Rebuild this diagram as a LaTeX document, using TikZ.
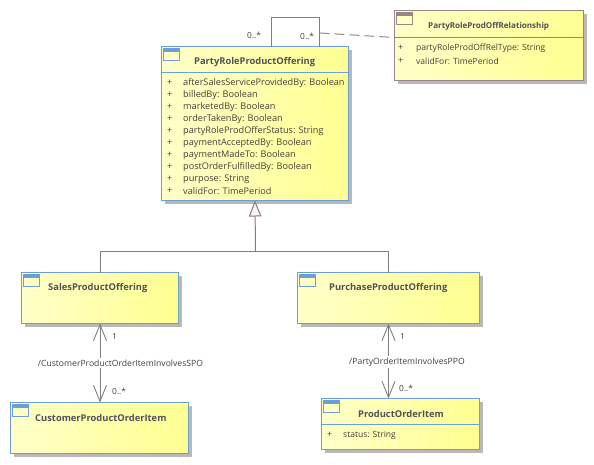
\documentclass[tikz,border=0pt]{standalone}
\usepackage{fontspec}
\setmainfont{Open Sans}
\usetikzlibrary{arrows.meta,calc}
\definecolor{bluebd}{HTML}{6C9FD8}
\definecolor{brownbd}{HTML}{9A8585}
\definecolor{linegray}{HTML}{7F7F7F}
\definecolor{shadowgray}{HTML}{B9B9B9}
\definecolor{txt}{HTML}{453F3F}
\definecolor{ttl}{HTML}{50505A}
\definecolor{yellowa}{HTML}{FFFFC8}
\definecolor{yellowb}{HTML}{FFFF90}
\tikzset{
  x=1pt,y=-1pt,
  classbox/.style={draw=#1,line width=1pt,anchor=north west,inner sep=0pt,outer sep=0pt,left color=yellowa,right color=yellowb},
  title/.style={font=\fontsize{9.35}{11}\selectfont\bfseries,text=ttl,anchor=west,inner sep=0pt},
  titlesm/.style={font=\fontsize{8.05}{10}\selectfont\bfseries,text=ttl,anchor=west,inner sep=0pt},
  attr/.style={font=\fontsize{8.55}{10}\selectfont,text=txt,anchor=west,inner sep=0pt},
  attrbig/.style={attr,font=\fontsize{9.15}{11}\selectfont},
  mult/.style={font=\fontsize{8.4}{10}\selectfont,text=txt,inner sep=0pt},
  lbl/.style={font=\fontsize{8.6}{10}\selectfont,text=txt,inner sep=2pt,fill=white},
  conn/.style={draw=linegray,line width=1pt},
  assoc/.style={conn,{Straight Barb[length=16pt,width=13pt,line width=.9pt]}-{Straight Barb[length=16pt,width=13pt,line width=.9pt]}},
  gen/.style={conn,-{Triangle[open,length=16pt,width=12.5pt,fill=red!6!white,line width=1pt]}}
}
% name, x, y, w, h, border colour
\newcommand{\classshape}[6]{%
  \fill[shadowgray] (#2+3,#3+3) rectangle ++(#4,#5);
  \node[classbox=#6,minimum width=#4pt,minimum height=#5pt] (#1) at (#2,#3) {};
  \draw[#6,line width=.9pt] (#2+2,#3+2) rectangle ++(16,12);
  \fill[#6] (#2+2,#3+2) rectangle ++(16,3.5);
}
\begin{document}
\begin{tikzpicture}
\useasboundingbox (0,0) rectangle (594,464);
\fill[white] (0,0) rectangle (594,464);

\coordinate (loopa) at (271.5,17.5);
\coordinate (loopb) at (319.5,17.5);
\coordinate (junction) at (255.5,251);

\classshape{main}{161.5}{46.5}{187}{154}{bluebd}
\classshape{rel}{394.5}{10.5}{189}{70}{brownbd}
\classshape{sales}{21.5}{272.5}{157}{51}{bluebd}
\classshape{purch}{297.5}{272.5}{182}{51}{bluebd}
\classshape{cpoi}{10.5}{402.5}{178}{51}{bluebd}
\classshape{poi}{321.5}{398.5}{158}{51}{bluebd}

% compartment lines
\draw[bluebd,line width=1pt] (161.5,72.5) -- (348.5,72.5);
\draw[brownbd,line width=1pt] (394.5,37.5) -- (583.5,37.5);
\draw[bluebd,line width=1pt] (321.5,424.5) -- (479.5,424.5);

% connectors
\draw[conn] (main.north west -| loopa) -- (loopa) -- (loopb) -- (main.north west -| loopb);
\coordinate (loopmid) at (319.5,33);
\draw[conn,dash pattern=on 10pt off 5pt,draw=brownbd] (loopmid) -- (rel.west |- 0,37.5);
\draw[conn] (sales.north) |- (junction);
\draw[conn] (purch.north) |- (junction);
\draw[gen] (junction) -- (main.south);
\draw[assoc] (sales.south) -- (sales.south |- cpoi.north);
\draw[assoc] (purch.south) -- (purch.south |- poi.north);

\node[lbl] (la) at (120.5,363) {/CustomerProductOrderItemInvolvesSPO};
\node[lbl] (lb) at (407,362) {/PartyOrderItemInvolvesPPO};
\node[mult] (m1) at (114.5,336) {1};
\node[mult,anchor=west] (m2) at (112,391) {0..*};
\node[mult] (m3) at (402.5,336) {1};
\node[mult,anchor=west] (m4) at (399,388) {0..*};
\node[mult,anchor=west] (m5) at (247,35) {0..*};
\node[mult,anchor=west] (m6) at (300,36) {0..*};

% titles
\node[title] (t1) at (194,62) {PartyRoleProductOffering};
\node[titlesm] (t2) at (428,26) {PartyRoleProdOffRelationship};
\node[title] (t3) at (48,288) {SalesProductOffering};
\node[title] (t4) at (329,288) {PurchaseProductOffering};
\node[title] (t5) at (35,418) {CustomerProductOrderItem};
\node[title] (t6) at (358,414) {ProductOrderItem};

% attributes of the main class
\foreach \n/\y/\s in {a1/83/{afterSalesServiceProvidedBy: Boolean},
  a2/95/{billedBy: Boolean},a3/107/{marketedBy: Boolean},a4/119/{orderTakenBy: Boolean},
  a5/131/{partyRoleProdOfferStatus: String},a6/143/{paymentAcceptedBy: Boolean},
  a7/155/{paymentMadeTo: Boolean},a8/167/{postOrderFulfilledBy: Boolean},
  a9/179/{purpose: String},a10/191/{validFor: TimePeriod}}{
  \node[attrbig] (p\n) at (167,\y) {+};
  \node[attrbig] (\n) at (183,\y) {\s};
}
\node[attrbig] (pr1) at (398,48) {+};
\node[attr] (r1) at (416,48) {partyRoleProdOffRelType: String};
\node[attrbig] (pr2) at (398,61) {+};
\node[attr] (r2) at (416,61) {validFor: TimePeriod};
\node[attrbig] (ps1) at (327,435) {+};
\node[attr] (s1) at (343,435) {status: String};
\end{tikzpicture}
\end{document}
